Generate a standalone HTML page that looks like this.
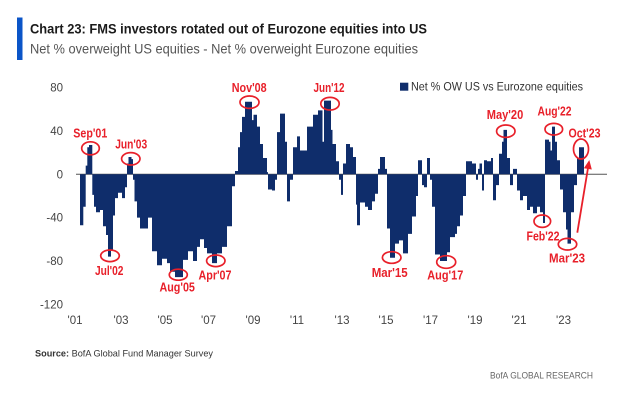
<!DOCTYPE html>
<html>
<head>
<meta charset="utf-8">
<style>
html,body{margin:0;padding:0;background:#fff;}
svg{display:block;}
text{font-family:"Liberation Sans",Arial,sans-serif;}
</style>
</head>
<body>
<svg width="624" height="414" viewBox="0 0 624 414" xmlns="http://www.w3.org/2000/svg">
<rect width="624" height="414" fill="#fff"/>
<!-- Title block -->
<rect x="17" y="17.5" width="5.5" height="42.5" fill="#0b55c8"/>
<text x="30" y="33.3" font-size="14" font-weight="bold" fill="#1a1a1a" textLength="397" lengthAdjust="spacingAndGlyphs">Chart 23: FMS investors rotated out of Eurozone equities into US</text>
<text x="30" y="53.3" font-size="14" fill="#555" textLength="388" lengthAdjust="spacingAndGlyphs">Net % overweight US equities - Net % overweight Eurozone equities</text>

<!-- Y axis labels -->
<g font-size="11.5" fill="#444" text-anchor="end">
<text x="63" y="91.5">80</text>
<text x="63" y="135">40</text>
<text x="63" y="178.3">0</text>
<text x="63" y="221.6">-40</text>
<text x="63" y="265">-80</text>
<text x="63" y="308.3">-120</text>
</g>
<!-- X axis labels -->
<g font-size="11.5" fill="#444" text-anchor="middle">
<text x="75" y="324">'01</text>
<text x="121" y="324">'03</text>
<text x="165" y="324">'05</text>
<text x="208.5" y="324">'07</text>
<text x="253" y="324">'09</text>
<text x="297" y="324">'11</text>
<text x="342" y="324">'13</text>
<text x="386" y="324">'15</text>
<text x="430.5" y="324">'17</text>
<text x="475" y="324">'19</text>
<text x="519" y="324">'21</text>
<text x="563.5" y="324">'23</text>
</g>

<!-- Zero line -->
<line x1="76" y1="174.3" x2="607" y2="174.3" stroke="#555" stroke-width="1"/>

<!-- Bars (step area) -->
<g transform="translate(0,174.3) scale(1,-1.083)">
<path fill="#0f2d6b" d="M80 0 V-47 H83.3 V-30 H85.7 V8 H87.3 V25 H89 V27 H92.3 V-19 H94 V-30 H96 V-35 H100 V-33 H103 V-48 H106 V-56 H108 V-76 H111 V-70 H113 V-38 H115 V-22 H118 V-17 H122 V-22 H125 V-12 H127 V10 H128.5 V16 H131.5 V14 H133 V-5 H134.5 V-25 H137 V-40 H140 V-50 H148 V-40 H152 V-71 H157 V-84 H162 V-78 H167 V-82 H170 V-90 H175 V-95 H183 V-79 H188 V-71 H193 V-80 H197 V-67 H200 V-60 H204 V-68 H207 V-73 H212 V-82 H217 V-73 H222 V-67 H227 V-48 H232 V-11 H235 V3 H238 V25 H240 V39 H242 V53 H245 V67 H252 V50 H253.5 V55 H257 V44 H260 V28 H263 V15 H267 V2 H268 V-14 H272 V-15 H275 V-5 H277 V39 H280 V56 H285 V30 H287 V-25 H290 V-5 H293 V25 H297 V35 H300 V22 H307 V44 H313 V55 H318 V59 H322.5 V30 H324 V68 H331 V41 H332.5 V28 H336 V12 H339 V-5 H341 V-19 H343 V10 H346 V28 H350 V25 H353 V16 H356 V-28 H357 V-47 H360 V-26 H365 V-30 H368 V-33 H372 V-25 H375 V-18 H378 V5 H380 V16 H385 V5 H387 V-50 H390 V-77 H395 V-64 H399 V-61 H403 V-73 H408 V-55 H412 V-39 H416 V-20 H418 V13 H422 V-10 H424 V-12 H427 V15 H430 V-5 H432 V-30 H435 V-74 H440 V-80 H447 V-72 H450 V-58 H455 V-55 H457 V-48 H460 V-38 H463 V-20 H466 V12 H472 V10 H476 V-5 H478 V5 H479.5 V10 H482 V-15 H484 V13 H487 V12 H491 V15 H493 V-24 H496 V-10 H499 V19 H502 V30 H503.5 V41 H507 V15 H510 V-10 H513 V5 H517 V-15 H520 V-24 H523 V-20 H527 V-33 H530 V-30 H533 V-36 H537 V-30 H540 V-35 H543 V-45 H545 V32 H549 V30 H550.5 V22 H552 V44 H555 V30 H557 V13 H560 V-14 H563 V-35 H566 V-51 H567.5 V-64 H571 V-35 H574 V-10 H577 V15 H579 V25 H584 V0 Z"/>
</g>

<!-- Legend -->
<rect x="400" y="82.7" width="8.3" height="8" fill="#0f2d6b"/>
<text x="411" y="90.5" font-size="11.5" fill="#333" textLength="172" lengthAdjust="spacingAndGlyphs">Net % OW US vs Eurozone equities</text>

<!-- Red circles -->
<g fill="none" stroke="#e8202a" stroke-width="1.7">
<ellipse cx="90.5" cy="148.3" rx="8.8" ry="6.5"/>
<ellipse cx="130.8" cy="158.8" rx="9.2" ry="6.2"/>
<ellipse cx="110" cy="255.8" rx="9.3" ry="5.8"/>
<ellipse cx="178.3" cy="274.7" rx="9" ry="5.5"/>
<ellipse cx="215.8" cy="260.8" rx="9.2" ry="5.8"/>
<ellipse cx="249.5" cy="102.2" rx="9.5" ry="6.2"/>
<ellipse cx="330" cy="103.7" rx="9.2" ry="6.3"/>
<ellipse cx="391.7" cy="257.5" rx="9.3" ry="5.8"/>
<ellipse cx="446.2" cy="262" rx="9.5" ry="6.3"/>
<ellipse cx="505.8" cy="131.2" rx="9.2" ry="6.2"/>
<ellipse cx="553.8" cy="129.2" rx="8.8" ry="5.8"/>
<ellipse cx="581" cy="149" rx="7.5" ry="10"/>
<ellipse cx="542.3" cy="221.2" rx="8.3" ry="6.2"/>
<ellipse cx="567.5" cy="244.2" rx="9.2" ry="5.8"/>
</g>

<!-- Arrow -->
<line x1="577.3" y1="232.7" x2="588" y2="168" stroke="#e8202a" stroke-width="1.8"/>
<polygon points="589.3,160 591.8,169.5 583.9,168.2" fill="#e8202a"/>

<!-- Red labels -->
<g font-size="12.5" font-weight="bold" fill="#e8202a" text-anchor="middle">
<text x="90.3" y="137.3" textLength="34" lengthAdjust="spacingAndGlyphs">Sep'01</text>
<text x="131.2" y="148.3" textLength="32" lengthAdjust="spacingAndGlyphs">Jun'03</text>
<text x="109.2" y="275" textLength="28.5" lengthAdjust="spacingAndGlyphs">Jul'02</text>
<text x="177.2" y="291.5" textLength="35.5" lengthAdjust="spacingAndGlyphs">Aug'05</text>
<text x="215" y="279.5" textLength="33" lengthAdjust="spacingAndGlyphs">Apr'07</text>
<text x="249.2" y="92" textLength="35" lengthAdjust="spacingAndGlyphs">Nov'08</text>
<text x="329" y="92" textLength="31" lengthAdjust="spacingAndGlyphs">Jun'12</text>
<text x="389.7" y="277" textLength="36" lengthAdjust="spacingAndGlyphs">Mar'15</text>
<text x="445.3" y="279.5" textLength="36" lengthAdjust="spacingAndGlyphs">Aug'17</text>
<text x="505" y="119" textLength="36.5" lengthAdjust="spacingAndGlyphs">May'20</text>
<text x="554.5" y="115.5" textLength="34" lengthAdjust="spacingAndGlyphs">Aug'22</text>
<text x="584.5" y="137.5" textLength="32" lengthAdjust="spacingAndGlyphs">Oct'23</text>
<text x="543" y="240.5" textLength="33" lengthAdjust="spacingAndGlyphs">Feb'22</text>
<text x="567" y="262.5" textLength="36" lengthAdjust="spacingAndGlyphs">Mar'23</text>
</g>

<!-- Footer -->
<text x="35" y="356.5" font-size="9.5" fill="#333" textLength="178" lengthAdjust="spacingAndGlyphs"><tspan font-weight="bold">Source:</tspan> BofA Global Fund Manager Survey</text>
<text x="490" y="378.3" font-size="9.5" fill="#666" textLength="103" lengthAdjust="spacingAndGlyphs">BofA GLOBAL RESEARCH</text>
</svg>
</body>
</html>
